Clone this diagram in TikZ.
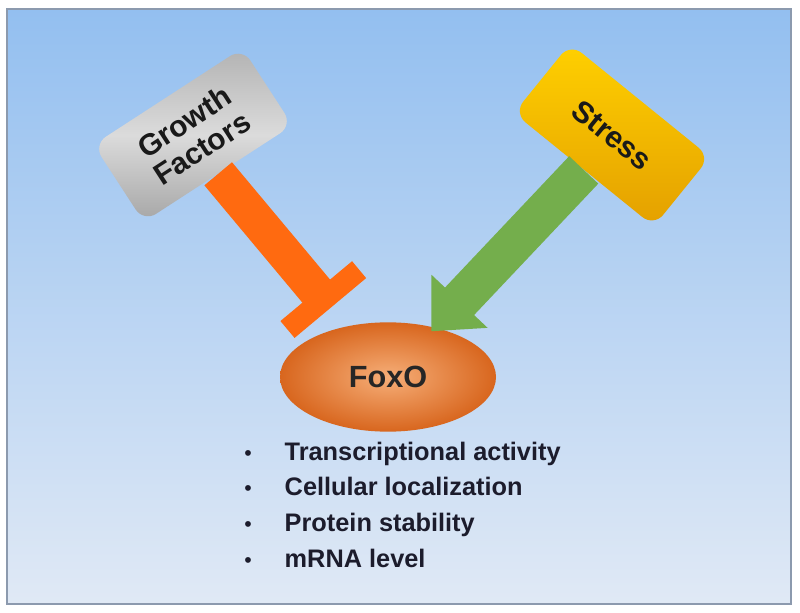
\documentclass[tikz,border=0pt]{standalone}
\usepackage{fontspec}
\setmainfont{Liberation Sans}
\usetikzlibrary{shapes.geometric,arrows.meta}
\definecolor{skytop}{HTML}{93BFF0}
\definecolor{skybot}{HTML}{E0E9F5}
\definecolor{framegray}{HTML}{8C9AAE}
\definecolor{inhibit}{HTML}{FF6A10}
\definecolor{activate}{HTML}{74AE4C}
\definecolor{foxodark}{HTML}{D8661E}
\definecolor{foxolight}{HTML}{F6AE78}
\definecolor{stresstop}{HTML}{FFD000}
\definecolor{stressbot}{HTML}{E4A000}
\definecolor{textdark}{HTML}{1C1C2C}
\tikzset{
  signal/.style={rectangle,rounded corners=11pt,minimum width=133pt,minimum height=69pt,
    align=center,font=\bfseries\fontsize{22.5}{24}\selectfont,text=black!90},
  item/.style={anchor=base west,font=\bfseries\fontsize{19}{20}\selectfont,text=textdark},
}
\begin{document}
\begin{tikzpicture}[x=0.75pt,y=-0.75pt]
\useasboundingbox (0,0) rectangle (800,613);
% background panel
\shade[top color=skytop,bottom color=skybot] (7,9) rectangle (791,604);
\draw[framegray,line width=1.5pt] (7,9) rectangle (791,604);
% signals
\node[signal,rotate=33,top color=gray!60,bottom color=gray!70,middle color=gray!28] (gf) at (193,135) {Growth\\Factors};
\node[signal,rotate=-39,minimum width=135pt,minimum height=67pt,top color=stresstop,bottom color=stressbot] (stress) at (612,135) {Stress};
% target
\node[ellipse,minimum width=162pt,minimum height=82pt,inner color=foxolight,outer color=foxodark,
  font=\bfseries\fontsize{23}{24}\selectfont,text=black!85] (foxo) at (388,377) {FoxO};
% connectors
\draw[inhibit,line width=27pt,-{Bar[width=70pt,line width=16.5pt]},shorten >=18pt] (gf.south) -- (foxo);
\draw[activate,line width=30pt,-{Triangle[width=56pt,length=31pt]},shorten >=-4pt] (stress.south) -- (foxo);
% effects
\node[item] (i1) at (280,460) {Transcriptional activity};
\node[item] (i2) at (280,495) {Cellular localization};
\node[item] (i3) at (280,531) {Protein stability};
\node[item] (i4) at (280,567) {mRNA level};
\foreach \i in {1,...,4}
  \node[anchor=base,text=textdark,font=\fontsize{16}{16}\selectfont] at ([xshift=-24pt]i\i.base west) {\textbullet};
\end{tikzpicture}
\end{document}
